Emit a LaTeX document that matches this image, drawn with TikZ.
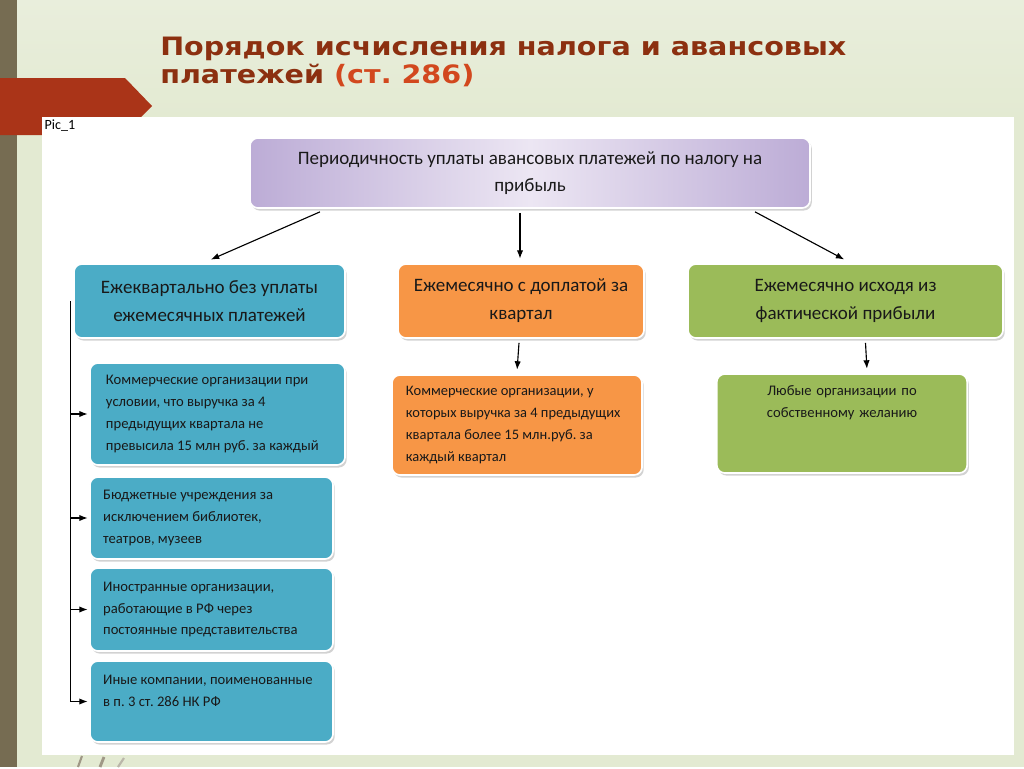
\documentclass[tikz,border=0pt]{standalone}
\usepackage{fontspec}
\setmainfont{Carlito}
\newfontfamily\titlefont{DejaVu Sans}
\usetikzlibrary{arrows.meta}
\usetikzlibrary{calc}
\usetikzlibrary{shadows}
\frenchspacing

\definecolor{slidebg}{RGB}{227,234,210}
\definecolor{slidetop}{RGB}{233,238,220}
\definecolor{stripbrown}{RGB}{118,108,82}
\definecolor{bannerred}{RGB}{170,52,24}
\definecolor{titledark}{RGB}{140,48,16}
\definecolor{titlebright}{RGB}{210,72,30}
\definecolor{boxblue}{RGB}{75,172,198}
\definecolor{boxorange}{RGB}{247,150,70}
\definecolor{boxgreen}{RGB}{155,187,89}
\definecolor{lavdark}{RGB}{188,172,214}
\definecolor{lavlight}{RGB}{236,230,243}

\begin{document}
\begin{tikzpicture}[x=0.025cm, y=-0.025cm,
        box_style/.style={rounded corners=0.2cm, draw=white, line width=1.2pt, text=black!90,
            drop shadow={shadow xshift=1.2pt, shadow yshift=-1.8pt, opacity=0.35}},
        root_style/.style={box_style, align=center, left color=lavdark, right color=lavdark, middle color=lavlight,
            minimum width=14cm, minimum height=1.75cm, font=\fontsize{13.5}{19.2}\selectfont},
        mode_style/.style={box_style, align=center, minimum height=1.85cm, font=\fontsize{13.5}{20}\selectfont},
        leaf_style/.style={box_style, align=flush left, inner xsep=0.33cm, font=\fontsize{10.4}{15.6}\selectfont},
        title_style/.style={anchor=base west, inner sep=0, text=titledark, font=\titlefont\bfseries\fontsize{18}{21}\selectfont},
        edge_style/.style={draw=black, line width=0.8pt, shorten >=1pt, -{Latex[length=6pt,width=4.5pt]}}]

        % slide background
        \fill[slidebg] (0,0) rectangle (1024,767);
        \shade[top color=slidetop, bottom color=slidebg] (17,0) rectangle (1024,117);
        \fill[stripbrown] (0,0) rectangle (17,767);
        \fill[bannerred] (0,78) -- (125,78) -- (152,106) -- (123,135) -- (0,135) -- cycle;
        \fill[white] (42,117) rectangle (1014,755);
        \draw[stripbrown!70, line width=1.5pt] (78,767) -- (82,756);
        \draw[stripbrown!70, line width=2pt] (100,767) -- (104,757);
        \draw[stripbrown!50, line width=1.5pt] (118,767) -- (124,758);
        \useasboundingbox (0,0) rectangle (1024,767);

        % title
        \node[title_style] (title1) at (160,55) {\scalebox{1.13}[1]{Порядок исчисления налога и авансовых}};
        \node[title_style] (title2) at (160,83) {\scalebox{1.13}[1]{платежей \textcolor{titlebright}{(ст. 286)}}};
        \node[anchor=north west, inner sep=1pt, font=\fontsize{10}{12}\selectfont] (pic) at (43,118) {Pic\_1};

        % boxes
        \node [root_style] (root) at (530,173) {Периодичность уплаты авансовых платежей по налогу на\\прибыль};

        \node [mode_style, fill=boxblue, minimum width=6.775cm] (l2) at (209.5,301) {Ежеквартально без уплаты\\ежемесячных платежей};

        \node [mode_style, fill=boxorange, minimum width=6.15cm] (m2) at (521,301) {Ежемесячно с доплатой за\\квартал};

        \node [mode_style, fill=boxgreen, minimum width=7.875cm] (r2) at (845.5,301) {Ежемесячно исходя из\\фактической прибыли};

        \node [leaf_style, fill=boxblue, inner xsep=0.4cm, text width=5.575cm, minimum height=2.55cm] (b1) at (217.5,414)
            {Коммерческие организации при\\условии, что выручка за 4\\предыдущих квартала не\\превысила 15 млн руб. за каждый};

        \node [leaf_style, fill=boxblue, text width=5.415cm, minimum height=2.05cm] (b2) at (211.5,518)
            {Бюджетные учреждения за\\исключением библиотек,\\театров, музеев};

        \node [leaf_style, fill=boxblue, text width=5.415cm, minimum height=2.075cm] (b3) at (211.5,609.5)
            {Иностранные организации,\\работающие в РФ через\\постоянные представительства};

        \node [leaf_style, fill=boxblue, text width=5.415cm, minimum height=2.025cm] (b4) at (211.5,701.5)
            {Иные компании, поименованные\\в п. 3 ст. 286 НК РФ\\\mbox{}};

        \node [leaf_style, fill=boxorange, inner xsep=0.35cm, text width=5.55cm, minimum height=2.5cm,
            font=\fontsize{10.3}{15.6}\selectfont] (m3) at (517,425)
            {Коммерческие организации, у\\которых выручка за 4 предыдущих\\квартала более 15 млн.руб. за\\каждый квартал};

        \node [leaf_style, fill=boxgreen, align=center, text width=5.6cm, minimum height=2.475cm] (r3) at (842,423.5)
            {Любые организации по\\собственному желанию\\\mbox{}\\\mbox{}};

        % connectors
        \draw [edge_style] ($(root.south)+(-210,3)$) -- ($(l2.north)+(0,-3)$);
        \draw [edge_style] ($(root.south)+(-10,4)$) -- ($(m2.north)+(-1,-3)$);
        \draw [edge_style] ($(root.south)+(225,3)$) -- ($(r2.north)+(0,-3)$);
        \draw [edge_style] ($(m2.south)+(-2,4)$) -- ($(m3.north)+(0,-3)$);
        \draw [edge_style] ($(r2.south)+(20,4)$) -- ($(r3.north)+(25,-3)$);

        \coordinate (stem) at ($(l2.west)+(-3,0)$);
        \draw [edge_style] (stem) |- (b4.west);
        \draw [edge_style] (stem |- b1.west) -- (b1.west);
        \draw [edge_style] (stem |- b2.west) -- (b2.west);
        \draw [edge_style] (stem |- b3.west) -- (b3.west);
\end{tikzpicture}
\end{document}
